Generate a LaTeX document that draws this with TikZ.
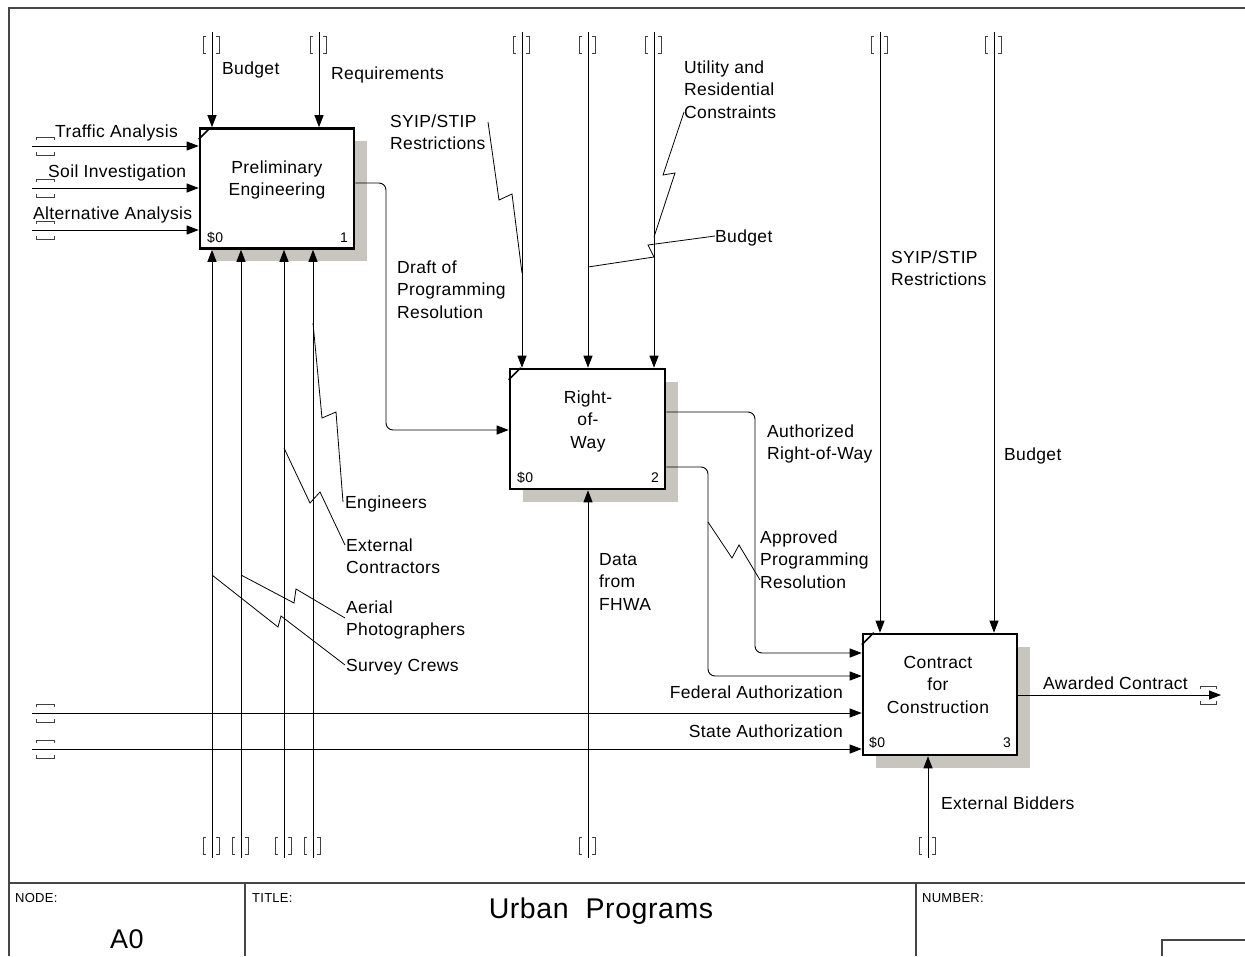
\documentclass[tikz,border=0pt]{standalone}
\usepackage{fontspec}
\setmainfont{Liberation Sans}[LetterSpace=2.0]
\usetikzlibrary{arrows.meta,shadows,calc}
\definecolor{shadowgray}{RGB}{200,196,190}
\definecolor{framegray}{RGB}{70,70,70}
\newcommand\tunV[3]{%
  \draw[tun] (#1-6,#2)--(#1-9,#2)--(#1-9,#3)--(#1-6,#3);
  \draw[tun] (#1+4,#2)--(#1+7,#2)--(#1+7,#3)--(#1+4,#3);}
\newcommand\tunH[3]{%
  \draw[tun] (#1,#3-6)--(#1,#3-9)--(#2,#3-9)--(#2,#3-6);
  \draw[tun] (#1,#3+6)--(#1,#3+9)--(#2,#3+9)--(#2,#3+6);}
\begin{document}
\begin{tikzpicture}[x=1pt,y=-1pt,
  arr/.style={line width=0.9pt,-{Triangle[length=12pt,width=9pt]}},
  sq/.style={line width=0.8pt},
  tun/.style={line width=0.8pt,black!75},
  frame/.style={line width=1.4pt,framegray},
  box/.style={draw,line width=2.6pt,fill=white,inner sep=0,
    drop shadow={shadow xshift=12.5pt,shadow yshift=-12.5pt,opacity=1,fill=shadowgray}},
  lbl/.style={font=\fontsize{17.5}{22.5}\selectfont,inner sep=0,align=left,anchor=base west},
  lblr/.style={font=\fontsize{17.5}{22.5}\selectfont,inner sep=0,anchor=base east},
  btxt/.style={font=\fontsize{17.5}{22.5}\selectfont,inner sep=0,align=center,anchor=base},
  num/.style={font=\fontsize{14}{16}\selectfont,inner sep=0},
  small/.style={font=\fontsize{13}{15}\selectfont,inner sep=0,anchor=base west}]
\useasboundingbox (0,0) rectangle (1245,956);
\fill[white] (0,0) rectangle (1245,956);
% frame and title block
\draw[frame] (9,956) -- (9,8) -- (1245,8);
\draw[frame] (9,883) -- (1245,883);
\draw[frame] (245,883) -- (245,956);
\draw[frame] (916,883) -- (916,956);
\draw[frame] (1162,956) -- (1162,940) -- (1245,940);
\node[small] (tNode) at (15,902) {NODE:};
\node[small] (tTitle) at (252,902) {TITLE:};
\node[small] (tNum) at (922,902) {NUMBER:};
\node[font=\fontsize{27}{30}\selectfont,inner sep=0,anchor=base] (tA0) at (127,948) {A0};
\node[font=\fontsize{28.5}{30}\selectfont,inner sep=0,anchor=base] (tUrban) at (601,918) {Urban\ \ Programs};
% boxes
\node[box,minimum width=154,minimum height=120] (b1) at (277,188.5) {};
\node[box,minimum width=155,minimum height=120] (b2) at (587.5,429) {};
\node[box,minimum width=154,minimum height=121] (b3) at (940,694.5) {};
\foreach \b in {b1,b2,b3}{
  \draw[line width=1.6pt] ($(\b.north west)+(0,12)$) -- ($(\b.north west)+(12,0)$);}
\node[btxt] (t1) at (277,195.5) {Preliminary\\Engineering};
\node[btxt] (t2) at (588,448) {Right-\\of-\\Way};
\node[btxt] (t3) at (938,713) {Contract\\for\\Construction};
\node[num,anchor=base west] (d1) at (207,242) {\$0};
\node[num,anchor=base east] (n1) at (348,242) {1};
\node[num,anchor=base west] (d2) at (517,482) {\$0};
\node[num,anchor=base east] (n2) at (659,482) {2};
\node[num,anchor=base west] (d3) at (869,747) {\$0};
\node[num,anchor=base east] (n3) at (1011,747) {3};
% ---- box 1 controls
\coordinate (cB1) at (212,32);
\coordinate (cR1) at (319,32);
\draw[arr] (cB1) -- (cB1 |- b1.north);
\draw[arr] (cR1) -- (cR1 |- b1.north);
\tunV{212}{36}{53}\tunV{319}{36}{53}
\node[lbl] (lBudget1) at (222,74) {Budget};
\node[lbl] (lReq) at (331,79) {Requirements};
% ---- box 1 inputs
\coordinate (iTA) at (32,146);
\coordinate (iSI) at (32,188);
\coordinate (iAA) at (32,230);
\draw[arr] (iTA) -- (iTA -| b1.west);
\draw[arr] (iSI) -- (iSI -| b1.west);
\draw[arr] (iAA) -- (iAA -| b1.west);
\tunH{36}{54}{146}\tunH{36}{54}{188}\tunH{36}{54}{230}
\node[lbl] (lTA) at (55,137) {Traffic Analysis};
\node[lbl] (lSI) at (48,177) {Soil Investigation};
\node[lbl] (lAA) at (33,219) {Alternative Analysis};
% ---- box 1 mechanisms
\coordinate (m1) at (212,858);
\coordinate (m2) at (241,858);
\coordinate (m3) at (284,858);
\coordinate (m4) at (313,858);
\foreach \m in {m1,m2,m3,m4}{\draw[arr] (\m) -- (\m |- b1.south);}
\tunV{212}{837}{854}\tunV{241}{837}{854}\tunV{284}{837}{854}\tunV{313}{837}{854}
\node[lbl] (lEng) at (345,508) {Engineers};
\node[lbl] (lExt) at (346,573.5) {External\\Contractors};
\node[lbl] (lAer) at (346,635.5) {Aerial\\Photographers};
\node[lbl] (lSur) at (346,671) {Survey Crews};
\draw[sq] (313,323) -- (322,418) -- (336,412) -- (343,502);
\draw[sq] (284,448) -- (310,503) -- (320,492) -- (345,545);
\draw[sq] (241,575) -- (294,603) -- (296,589) -- (345,618);
\draw[sq] (212,575) -- (278,627) -- (281,616) -- (345,665);
% ---- box 1 output to box 2
\coordinate (o1) at (386,183);
\draw[arr,rounded corners=7pt] (b1.east |- o1) -- (o1) -- (386,430) -- (b2.west |- 0,430);
\node[lbl] (lDraft) at (397,318) {Draft of\\Programming\\Resolution};
% ---- box 2 controls
\coordinate (c21) at (522,32);
\coordinate (c22) at (588,32);
\coordinate (c23) at (654,32);
\foreach \c in {c21,c22,c23}{\draw[arr] (\c) -- (\c |- b2.north);}
\tunV{522}{36}{53}\tunV{588}{36}{53}\tunV{654}{36}{53}
\node[lbl] (lSyip2) at (390,149.5) {SYIP/STIP\\Restrictions};
\node[lbl] (lUtil) at (684,118) {Utility and\\Residential\\Constraints};
\node[lbl] (lBudget2) at (715,242) {Budget};
\draw[sq] (488,122) -- (499,200) -- (512,194) -- (522,273);
\draw[sq] (684,112) -- (663,175) -- (675,173) -- (654,237);
\draw[sq] (715,236) -- (648,245) -- (654,257) -- (588,267);
% ---- box 2 mechanism
\coordinate (m21) at (588,858);
\draw[arr] (m21) -- (m21 |- b2.south);
\tunV{588}{837}{854}
\node[lbl] (lData) at (599,610) {Data\\from\\FHWA};
% ---- box 2 outputs to box 3
\draw[arr,rounded corners=7pt] (b2.east |- 0,412) -- (755,412) -- (755,653) -- (b3.west |- 0,653);
\draw[arr,rounded corners=7pt] (b2.east |- 0,467) -- (708,467) -- (708,676) -- (b3.west |- 0,676);
\node[lbl] (lAuth) at (767,459.5) {Authorized\\Right-of-Way};
\node[lbl] (lAppr) at (760,588) {Approved\\Programming\\Resolution};
\draw[sq] (708,522) -- (732,558) -- (739,545) -- (760,580);
% ---- box 3 inputs
\coordinate (iFA) at (32,713);
\coordinate (iSA) at (32,749);
\draw[arr] (iFA) -- (iFA -| b3.west);
\draw[arr] (iSA) -- (iSA -| b3.west);
\tunH{36}{54}{713}\tunH{36}{54}{749}
\node[lblr] (lFed) at (843,698) {Federal Authorization};
\node[lblr] (lState) at (843,737) {State Authorization};
% ---- box 3 controls
\coordinate (c31) at (880,32);
\coordinate (c32) at (994,32);
\draw[arr] (c31) -- (c31 |- b3.north);
\draw[arr] (c32) -- (c32 |- b3.north);
\tunV{880}{36}{53}\tunV{994}{36}{53}
\node[lbl] (lSyip3) at (891,285.5) {SYIP/STIP\\Restrictions};
\node[lbl] (lBudget3) at (1004,460) {Budget};
% ---- box 3 mechanism
\coordinate (m31) at (928,858);
\draw[arr] (m31) -- (m31 |- b3.south);
\tunV{928}{837}{854}
\node[lbl] (lBid) at (941,809) {External Bidders};
% ---- box 3 output
\coordinate (oAC) at (1221,695);
\draw[arr] (b3.east |- oAC) -- (oAC);
\tunH{1200}{1216}{695}
\node[lbl] (lAC) at (1043,689) {Awarded Contract};
\end{tikzpicture}
\end{document}
